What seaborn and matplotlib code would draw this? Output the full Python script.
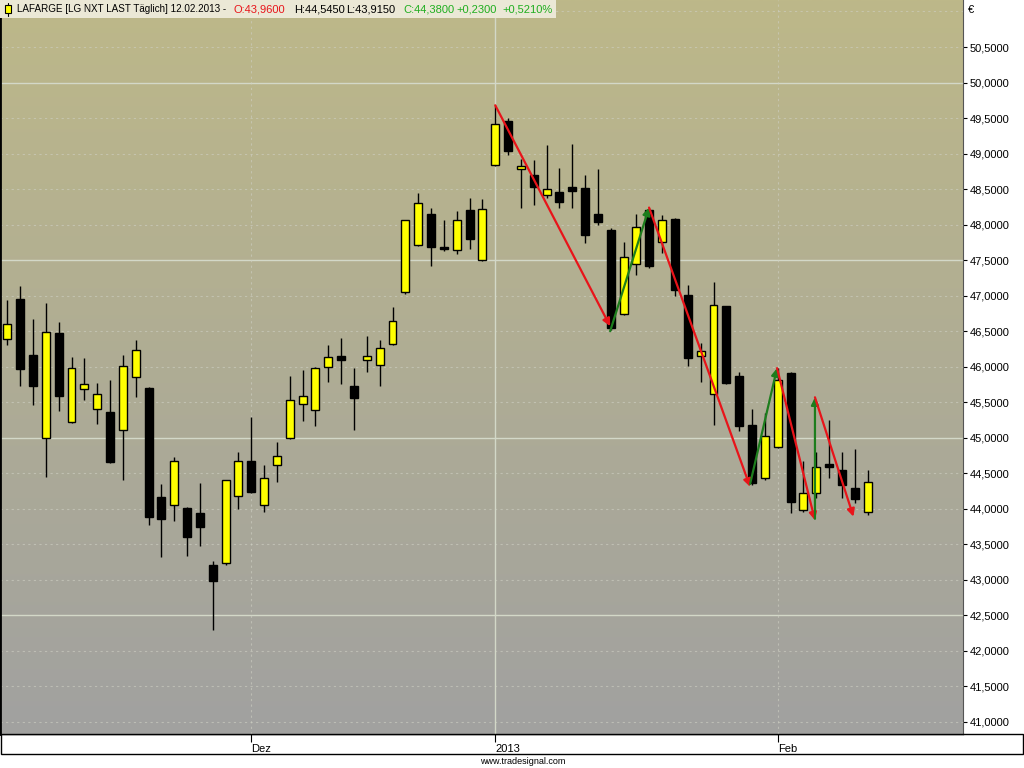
import numpy as np
import pandas as pd
import matplotlib
matplotlib.use("Agg")
import matplotlib.pyplot as plt
from matplotlib.patches import Rectangle
from matplotlib.lines import Line2D
import seaborn as sns

# daily OHLC, LAFARGE (LG NXT), Nov 2012 .. 12 Feb 2013
opens = [46.39, 46.96, 46.17, 44.99, 46.47, 45.22, 45.68, 45.40, 45.36, 45.11,
         45.85, 45.70, 44.16, 44.05, 44.01, 43.94, 43.21, 43.24, 44.18, 44.67,
         44.05, 44.61, 44.99, 45.47, 45.39, 45.99, 46.15, 45.73, 46.09, 46.02,
         46.32, 47.05, 47.71, 48.15, 47.67, 47.64, 48.20, 47.50, 48.84, 49.46,
         48.78, 48.70, 48.41, 48.46, 48.53, 48.51, 48.15, 47.92, 46.74, 47.45,
         48.21, 47.75, 48.08, 47.01, 46.15, 45.61, 46.85, 45.87, 45.18, 44.43,
         44.87, 45.91, 43.98, 44.22, 44.62, 44.55, 44.30, 43.96]
highs = [46.94, 47.13, 46.67, 46.90, 46.63, 46.13, 46.12, 45.77, 45.81, 46.17,
         46.38, 45.71, 44.35, 44.73, 44.02, 44.37, 43.26, 44.41, 44.80, 45.29,
         44.62, 44.94, 45.87, 45.95, 45.99, 46.30, 46.41, 45.98, 46.43, 46.38,
         46.84, 48.07, 48.44, 48.23, 48.06, 48.19, 48.37, 48.36, 49.68, 49.50,
         48.93, 48.91, 49.12, 48.79, 49.13, 48.70, 48.78, 47.95, 47.75, 48.15,
         48.23, 48.13, 48.09, 47.15, 46.33, 47.19, 46.86, 45.93, 45.40, 45.35,
         45.98, 45.92, 44.68, 44.80, 45.25, 44.80, 44.84, 44.545]
lows = [46.31, 45.73, 45.46, 44.45, 45.37, 45.21, 45.53, 45.19, 44.65, 44.41,
        45.58, 43.77, 43.32, 43.83, 43.33, 43.48, 42.29, 43.21, 44.00, 44.22,
        43.95, 44.38, 44.98, 45.24, 45.17, 45.79, 45.76, 45.11, 45.92, 45.73,
        46.31, 47.03, 47.70, 47.42, 47.63, 47.58, 47.65, 47.49, 48.82, 48.98,
        48.23, 48.27, 48.37, 48.24, 48.23, 47.74, 47.99, 46.52, 46.73, 47.29,
        47.39, 47.60, 46.99, 46.01, 45.79, 45.18, 45.76, 45.10, 44.33, 44.41,
        44.86, 43.94, 43.96, 44.15, 44.44, 44.15, 44.08, 43.915]
closes = [46.60, 45.97, 45.73, 46.49, 45.59, 45.98, 45.75, 45.61, 44.66, 46.01,
          46.24, 43.89, 43.85, 44.67, 43.61, 43.75, 42.99, 44.40, 44.67, 44.23,
          44.44, 44.74, 45.53, 45.59, 45.98, 46.13, 46.10, 45.56, 46.15, 46.26,
          46.65, 48.06, 48.30, 47.68, 47.65, 48.06, 47.80, 48.22, 49.41, 49.03,
          48.83, 48.53, 48.50, 48.32, 48.48, 47.85, 48.03, 46.54, 47.55, 47.96,
          47.42, 48.06, 47.08, 46.12, 46.22, 46.87, 45.77, 45.17, 44.37, 45.03,
          45.81, 44.10, 44.22, 44.59, 44.59, 44.33, 44.14, 44.38]

# month labels (bar index where the month starts)
month_pos = [19, 38, 60]
month_labels = ["Dez", "2013", "Feb"]

# hand-drawn trend arrows: start bar, start price, end bar, end price
arrow_x0 = [38.0, 46.95, 49.98, 57.85, 59.95, 62.9, 62.9]
arrow_y0 = [49.68, 46.50, 48.24, 44.35, 45.98, 43.86, 45.57]
arrow_x1 = [46.95, 49.98, 57.85, 59.95, 62.9, 62.9, 65.9]
arrow_y1 = [46.57, 48.24, 44.31, 45.98, 43.84, 45.57, 43.89]
arrow_col = ["#e8141a", "#1d7d1d", "#e8141a", "#1d7d1d", "#e8141a", "#1d7d1d", "#e8141a"]

# header: text pieces, x position (px), colour, size
head_txt = ["LAFARGE [LG NXT LAST Täglich] 12.02.2013 -", "O:43,9600",
            "H:44,5450", "L:43,9150", "C:44,3800", "+0,2300", "+0,5210%"]
head_x = [17, 234, 294, 346, 403, 456, 502]
head_col = ["black", "#e8141a", "black", "black", "#1fae1f", "#1fae1f", "#1fae1f"]
head_fs = [7.15, 8.0, 8.0, 8.0, 8.0, 8.0, 8.0]

df = pd.DataFrame({"open": opens, "high": highs, "low": lows, "close": closes})
df["idx"] = np.arange(len(df))
df["up"] = df["close"] >= df["open"]

sns.set_theme(style="white")
plt.rcParams["font.family"] = ["Liberation Sans", "DejaVu Sans"]

W, H = 1024, 768
fig = plt.figure(figsize=(W / 100, H / 100), dpi=100, facecolor="white")

# plot area in pixels: x 0..963, y 0..734
ax = fig.add_axes([0.0, 1 - 734 / H, 963 / W, 734 / H])
x0, x1 = -0.57, 74.43
y0, y1 = 40.831, 51.1615
ax.set_xlim(x0, x1)
ax.set_ylim(y0, y1)

# gradient background
top = np.array([189, 184, 137]) / 255
bot = np.array([161, 161, 160]) / 255
t = np.linspace(0, 1, 256)[:, None]
grad = (top * (1 - t) + bot * t)[:, None, :]
ax.imshow(grad, extent=[x0, x1, y0, y1], aspect="auto", zorder=0, interpolation="bilinear")

# grid
for v in np.arange(41.0, 51.01, 0.5):
    if abs(v / 2.5 - round(v / 2.5)) < 1e-6:
        ax.axhline(v, color="#d3d8c8", lw=1.0, zorder=1)
    else:
        ax.axhline(v, color="#cfd0c4", lw=0.8, ls=(0, (2, 3)), zorder=1, alpha=0.6)
ax.axvline(38, color="#d3d8c8", lw=1.0, zorder=1)
for p in (19, 60):
    ax.axvline(p, color="#cfd0c4", lw=0.8, ls=(0, (2, 3)), zorder=1, alpha=0.6)

# candles
ax.vlines(df["idx"], df["low"], df["high"], color="black", lw=1.0, zorder=3)
body_lo = df[["open", "close"]].min(axis=1)
body_h = (df["close"] - df["open"]).abs().clip(lower=0.035)
colors = np.where(df["up"], "#ffff00", "#000000")
ax.bar(df["idx"], body_h, bottom=body_lo, width=0.62, color=colors,
       edgecolor="black", linewidth=1.0, zorder=4)

# arrows
for xa, ya, xb, yb, c in zip(arrow_x0, arrow_y0, arrow_x1, arrow_y1, arrow_col):
    ax.annotate("", xy=(xb, yb), xytext=(xa, ya),
                arrowprops=dict(arrowstyle="-|>", color=c, lw=1.6,
                                mutation_scale=11, shrinkA=0, shrinkB=0),
                zorder=5)

# axes styling
ax.spines["top"].set_visible(False)
ax.spines["left"].set_color("black")
ax.spines["left"].set_linewidth(2.0)
ax.spines["bottom"].set_color("black")
ax.spines["bottom"].set_linewidth(1.0)
ax.spines["right"].set_color("#555555")
ax.spines["right"].set_linewidth(0.8)

yt = np.arange(41.0, 50.51, 0.5)
ax.yaxis.tick_right()
ax.set_yticks(yt)
ax.set_yticklabels([f"{v:.4f}".replace(".", ",") for v in yt])
ax.tick_params(axis="y", direction="out", length=3, width=0.8, pad=2,
               labelsize=8.0, colors="black", right=True, left=False)

ax.set_xticks(month_pos)
ax.set_xticklabels(month_labels)
ax.tick_params(axis="x", direction="out", length=6, width=0.8, pad=1,
               labelsize=8.0, colors="black", bottom=True)
for lab in ax.get_xticklabels():
    lab.set_horizontalalignment("left")
ax.grid(False)

# x-axis band
fig.patches.append(Rectangle((0.5 / W, 1 - 754 / H), 1022 / W, 20 / H,
                             transform=fig.transFigure, facecolor="none",
                             edgecolor="black", lw=1.0, zorder=-1))

# header box with small candle icon
fig.patches.append(Rectangle((0, 1 - 18 / H), 556 / W, 18 / H,
                             transform=fig.transFigure, facecolor="#ebe8d6",
                             edgecolor="none", zorder=5))
fig.lines.append(Line2D([8 / W, 8 / W], [1 - 3 / H, 1 - 16 / H],
                        transform=fig.transFigure, color="black", lw=0.8, zorder=5.5))
fig.patches.append(Rectangle((5 / W, 1 - 13 / H), 6 / W, 8 / H,
                             transform=fig.transFigure, facecolor="#ffff00",
                             edgecolor="black", lw=0.8, zorder=6))

ty = 1 - 9.5 / H
for s, xp, c, f in zip(head_txt, head_x, head_col, head_fs):
    fig.text(xp / W, ty, s, fontsize=f, color=c, va="center", zorder=7)

fig.text(968 / W, 1 - 10 / H, "€", fontsize=8, color="black", va="center")
fig.text(523 / W, 1 - 761 / H, "www.tradesignal.com", fontsize=6.5, color="black",
         ha="center", va="center")

fig.savefig("out.png", dpi=100, facecolor="white")
